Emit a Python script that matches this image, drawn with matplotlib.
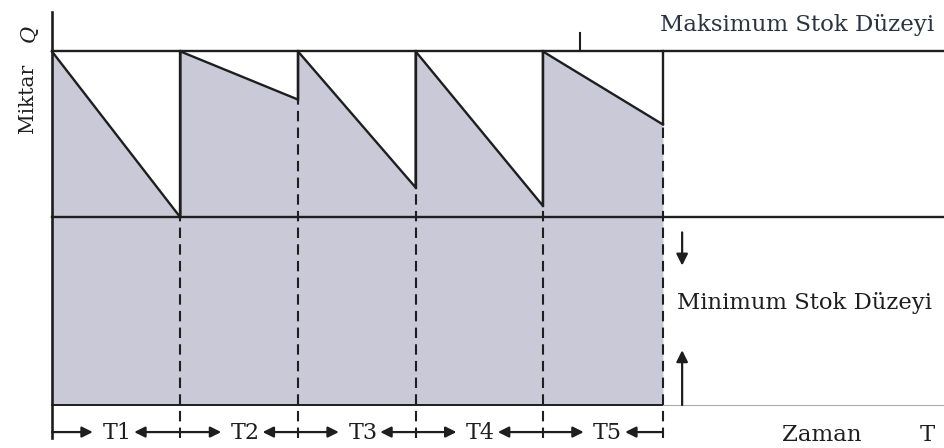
import matplotlib.pyplot as plt
import numpy as np

# order cycle boundaries (time units) and stock levels
times = [0, 10.7, 20.5, 30.3, 40.9, 50.9]
min_stock = 113
max_stock = 213
end_levels = [113, 184, 131, 120, 169]   # stock left at the end of each cycle
labels = ["T1", "T2", "T3", "T4", "T5"]

t_end = 74.4
dark = "#1e1e1e"
fill_col = "#c9c9d8"
serif = "DejaVu Serif"

fig = plt.figure(figsize=(9.45, 4.48), dpi=100)
ax = fig.add_axes([0, 0, 1, 1])
ax.set_xlim(-4.33, t_end)
ax.set_ylim(-25.9, 244)
ax.axis("off")

# sawtooth inventory path
xs, ys = [], []
for i in range(len(end_levels)):
    xs += [times[i], times[i + 1]]
    ys += [max_stock, end_levels[i]]
xs = np.array(xs)
ys = np.array(ys)
ax.fill_between(xs, 0, ys, color=fill_col, lw=0, zorder=1)
ax.plot(xs, ys, color=dark, lw=1.7, zorder=3)
# vertical restock jumps (solid) + dashed guides down to the time axis
for i in range(1, len(times)):
    ax.plot([times[i], times[i]], [end_levels[i - 1], max_stock], color=dark, lw=1.7, zorder=3)
    ax.plot([times[i], times[i]], [-19.9, end_levels[i - 1]], color=dark, lw=1.5,
            ls=(0, (5, 3)), zorder=3)

# level lines
ax.plot([0, t_end], [max_stock, max_stock], color=dark, lw=1.7, zorder=3)
ax.plot([0, t_end], [min_stock, min_stock], color=dark, lw=1.7, zorder=3)
ax.plot([0, times[-1]], [0, 0], color=dark, lw=1.4, zorder=3)
ax.plot([times[-1], t_end], [0, 0], color="#aaaaaa", lw=0.8, zorder=3)
ax.plot([0, 0], [-19.9, 236.7], color=dark, lw=1.9, zorder=4)
ax.plot([44, 44], [max_stock, 224], color=dark, lw=1.5, zorder=3)

# min stock arrows
ax.annotate("", xy=(52.5, 84), xytext=(52.5, 104),
            arrowprops=dict(arrowstyle="-|>", color=dark, lw=1.6, mutation_scale=17,
                            shrinkA=0, shrinkB=0))
ax.annotate("", xy=(52.5, 33), xytext=(52.5, 0),
            arrowprops=dict(arrowstyle="-|>", color=dark, lw=1.6, mutation_scale=17,
                            shrinkA=0, shrinkB=0))

# cycle labels with arrows
ya = -16.3
for i, lab in enumerate(labels):
    c = times[i] + 5.4
    ax.annotate("", xy=(times[i] + 3.4, ya), xytext=(times[i], ya),
                arrowprops=dict(arrowstyle="-|>", color=dark, lw=1.6, mutation_scale=16,
                                shrinkA=0, shrinkB=0))
    ax.annotate("", xy=(c + 1.45, ya), xytext=(times[i + 1], ya),
                arrowprops=dict(arrowstyle="-|>", color=dark, lw=1.6, mutation_scale=16,
                                shrinkA=0, shrinkB=0))
    ax.text(c, ya - 0.5, lab, family=serif, fontsize=16, ha="center", va="center", color=dark)

fig.text(822 / 945, 1 - 435 / 448, "Zaman", family=serif, fontsize=16.5, ha="center", va="center", color=dark)
fig.text(927 / 945, 1 - 435 / 448, "T", family=serif, fontsize=16.5, ha="center", va="center", color=dark)
fig.text(797 / 945, 1 - 25 / 448, "Maksimum Stok Düzeyi", family=serif, fontsize=16.5,
         ha="center", va="center", color="#2a3440")
fig.text(805 / 945, 1 - 303 / 448, "Minimum Stok Düzeyi", family=serif, fontsize=16.4,
         ha="center", va="center", color=dark)
fig.text(28 / 945, 1 - 98 / 448, "Miktar", family=serif, fontsize=14.5, rotation=90,
         ha="center", va="center", color=dark)
fig.text(29 / 945, 1 - 33 / 448, "Q", family=serif, fontsize=15, style="italic", rotation=90,
         ha="center", va="center", color=dark)

fig.savefig("out.png", dpi=100, facecolor="white")
